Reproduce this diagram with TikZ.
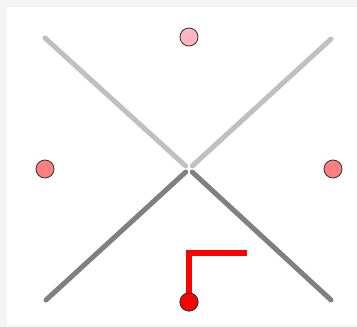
\documentclass[tikz,border=0pt]{standalone}
\usetikzlibrary{calc}
\definecolor{bgfill}{HTML}{F4F4F4}
\definecolor{lightline}{HTML}{C0C0C0}
\definecolor{darkline}{HTML}{808080}
\definecolor{pinkdot}{HTML}{FFB6C1}
\definecolor{salmondot}{HTML}{FF7F7F}
\definecolor{reddot}{HTML}{FF0000}
\tikzset{
  dot/.style={circle, draw=black!80, line width=0.8pt, minimum size=18pt, inner sep=0pt},
  lightbar/.style={draw=lightline, line width=5pt, line cap=round},
  darkbar/.style={draw=darkline, line width=5pt, line cap=round},
  redpath/.style={draw=reddot, line width=6.5pt, line join=miter}
}
\begin{document}
\begin{tikzpicture}[x=1pt,y=-1pt]
\useasboundingbox (0,0) rectangle (357,327);
\fill[bgfill] (0,0) rectangle (357,327);
\fill[white] (7,7) rectangle (357,325);
\coordinate (c) at (189,169);
\coordinate (ul) at (45,38);
\coordinate (ur) at (331,39);
\coordinate (ll) at (46,300);
\coordinate (lr) at (331,300);
\coordinate (corner) at (189,253);
\coordinate (redend) at (246.5,253);
\draw[lightbar] (ul) -- ($(c)!4.5pt!(ul)$);
\draw[lightbar] (ur) -- ($(c)!4.5pt!(ur)$);
\draw[darkbar] (ll) -- ($(c)!4.5pt!(ll)$);
\draw[darkbar] (lr) -- ($(c)!4.5pt!(lr)$);
\node[dot, fill=reddot] (bottom) at (189,302) {};
\draw[redpath] (bottom.center) -- (corner) -- (redend);
\node[dot, fill=reddot] at (189,302) {};
\node[dot, fill=pinkdot] (top) at (189,37) {};
\node[dot, fill=salmondot] (left) at (45,169) {};
\node[dot, fill=salmondot] (right) at (333,169) {};
\end{tikzpicture}
\end{document}
